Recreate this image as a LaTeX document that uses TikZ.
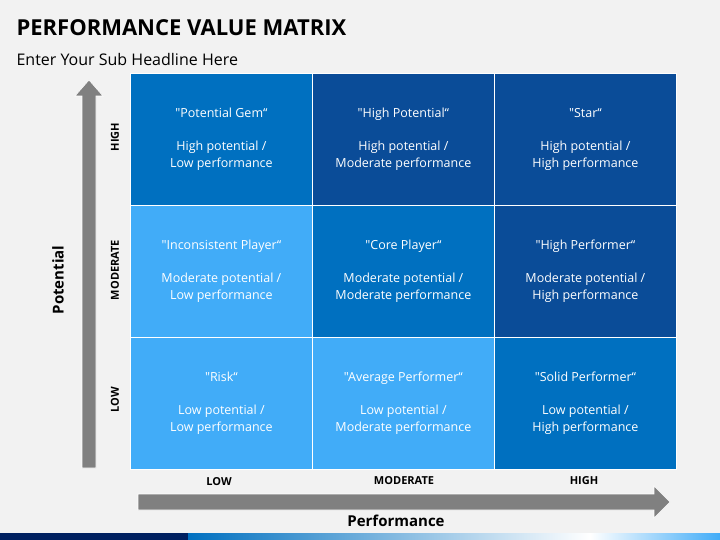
\documentclass[tikz,border=0pt]{standalone}
\usepackage{fontspec}
\setmainfont{Open Sans}[Ligatures=TeXOff]
\definecolor{bgray}{HTML}{F2F2F2}
\definecolor{agray}{HTML}{808080}
\definecolor{cmid}{HTML}{0070C0}
\definecolor{cdark}{HTML}{0A4C98}
\definecolor{clight}{HTML}{41ACF8}
\definecolor{navy}{HTML}{002060}
\tikzset{
  cell/.style={draw=white,line width=0.8pt,minimum width=182pt,minimum height=132pt,anchor=north west,inner sep=0pt,text=white,font=\fontsize{12.5}{17}\selectfont,align=center},
  axlab/.style={font=\bfseries\fontsize{11}{13}\selectfont},
  bigarrow/.style={fill=agray,draw=white,line width=0.6pt}
}
\begin{document}
\begin{tikzpicture}[x=1pt,y=-1pt]
  \useasboundingbox (0,0) rectangle (720,540);
  \fill[bgray] (0,0) rectangle (720,540);
  %title
  \node[anchor=west,font=\bfseries\fontsize{22}{26}\selectfont] (title) at (13,28) {PERFORMANCE VALUE MATRIX};
  \node[anchor=west,font=\fontsize{16}{19}\selectfont] (sub) at (13,60) {Enter Your Sub Headline Here};
  %matrix
  \node[cell,fill=cmid] (c11) at (130,73) {"Potential Gem“\\[16pt]High potential /\\Low performance};
  \node[cell,fill=cdark] (c12) at (312,73) {"High Potential“\\[16pt]High potential /\\Moderate performance};
  \node[cell,fill=cdark] (c13) at (494,73) {"Star“\\[16pt]High potential /\\High performance};
  \node[cell,fill=clight] (c21) at (130,205) {"Inconsistent Player“\\[16pt]Moderate potential /\\Low performance};
  \node[cell,fill=cmid] (c22) at (312,205) {"Core Player“\\[16pt]Moderate potential /\\Moderate performance};
  \node[cell,fill=cdark] (c23) at (494,205) {"High Performer“\\[16pt]Moderate potential /\\High performance};
  \node[cell,fill=clight] (c31) at (130,337) {"Risk“\\[16pt]Low potential /\\Low performance};
  \node[cell,fill=clight] (c32) at (312,337) {"Average Performer“\\[16pt]Low potential /\\Moderate performance};
  \node[cell,fill=cmid] (c33) at (494,337) {"Solid Performer“\\[16pt]Low potential /\\High performance};
  %axes
  \draw[bigarrow] (82,468) -- (82,96) -- (75,96) -- (89,80) -- (103,96) -- (96,96) -- (96,468) -- cycle;
  \draw[bigarrow] (138,494) -- (654,494) -- (654,486) -- (670,502) -- (654,518) -- (654,510) -- (138,510) -- cycle;
  \node[axlab,rotate=90] (yh) at (115,137) {HIGH};
  \node[axlab,rotate=90] (ym) at (115,270) {MODERATE};
  \node[axlab,rotate=90] (yl) at (115,400) {LOW};
  \node[axlab] (xl) at (219,482) {LOW};
  \node[axlab] (xm) at (404,481) {MODERATE};
  \node[axlab] (xh) at (584,481) {HIGH};
  \node[font=\bfseries\fontsize{15}{17}\selectfont,rotate=90] (ylab) at (58,280) {Potential};
  \node[font=\bfseries\fontsize{15}{17}\selectfont] (xlab) at (396,521) {Performance};
  %bottom strip
  \fill[navy] (0,533) rectangle (188,540);
  \shade[left color=cmid,right color=white] (188,533) rectangle (590,540);
  \shade[left color=white,right color=clight] (590,533) rectangle (720,540);
\end{tikzpicture}
\end{document}
